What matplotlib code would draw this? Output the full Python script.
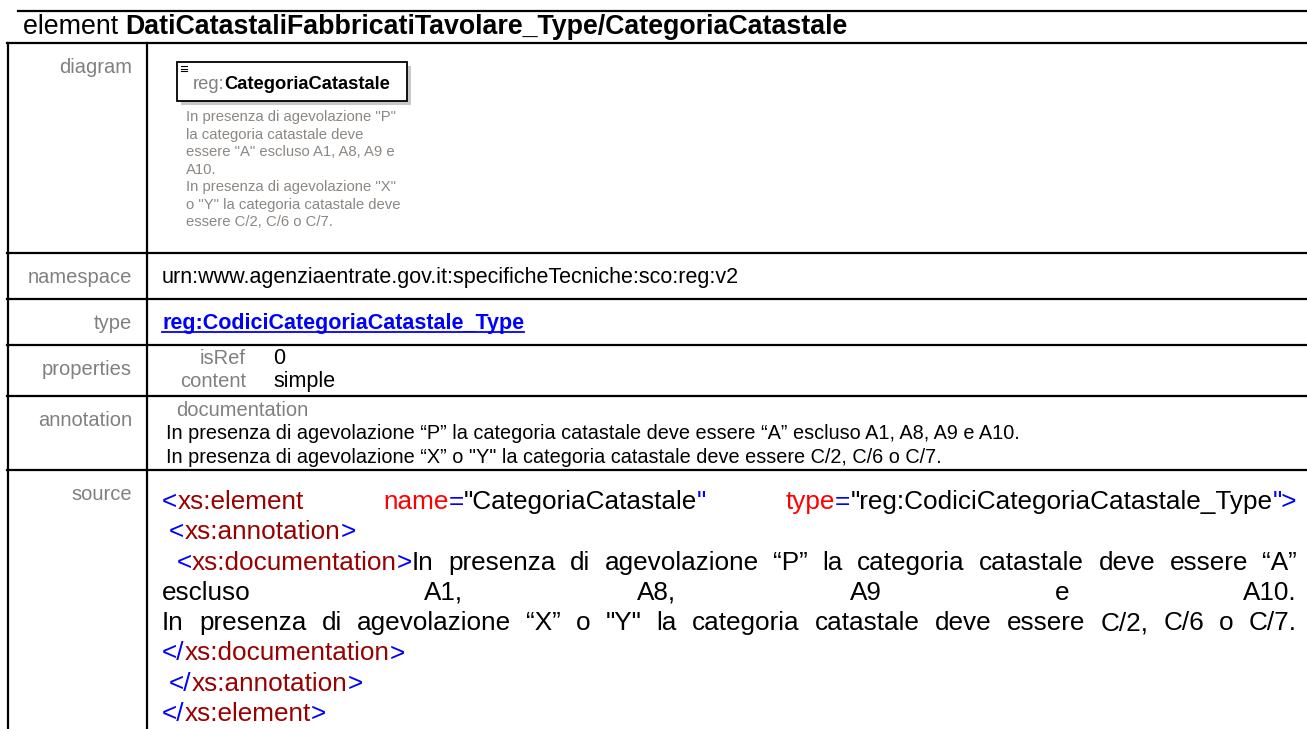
import matplotlib
matplotlib.use("Agg")
import matplotlib.pyplot as plt

# texts of the page
title_plain = "element "
title_bold = "DatiCatastaliFabbricatiTavolare_Type/CategoriaCatastale"

row_labels = ["diagram", "namespace", "type", "properties", "annotation", "source"]
row_tops = [43, 253, 299, 345, 396, 470]

namespace = "urn:www.agenziaentrate.gov.it:specificheTecniche:sco:reg:v2"
type_link = "reg:CodiciCategoriaCatastale_Type"
prop_names = ["isRef", "content"]
prop_values = ["0", "simple"]
doc_lines = [
    "In presenza di agevolazione \u201cP\u201d la categoria catastale deve essere \u201cA\u201d escluso A1, A8, A9 e A10.",
    "In presenza di agevolazione \u201cX\u201d o \"Y\" la categoria catastale deve essere C/2, C/6 o C/7.",
]

diag_prefix = "reg:"
diag_name = "CategoriaCatastale"
diag_desc = [
    "In presenza di agevolazione \"P\"",
    "la categoria catastale deve",
    "essere \"A\" escluso A1, A8, A9 e",
    "A10.",
    "In presenza di agevolazione \"X\"",
    "o \"Y\" la categoria catastale deve",
    "essere C/2, C/6 o C/7.",
]

BLUE = "#0000ff"
TAG = "#990000"
ATTR = "#ff0000"
TXT = "#000000"
GRAY = "#808080"

# source listing: each line = (indent, justified, words), word = list of (text, colour)
source_lines = [
    (0, True, [[("<", BLUE), ("xs:element", TAG)],
               [("name", ATTR), ("=", BLUE), ("\"CategoriaCatastale", TXT), ("\"", BLUE)],
               [("type", ATTR), ("=", BLUE), ("\"reg:CodiciCategoriaCatastale_Type", TXT), ("\">", BLUE)]]),
    (1, False, [[("<", BLUE), ("xs:annotation", TAG), (">", BLUE)]]),
    (2, True, [[("<", BLUE), ("xs:documentation", TAG), (">", BLUE), ("In", TXT)]]
              + [[(w, TXT)] for w in "presenza di agevolazione \u201cP\u201d la categoria catastale deve essere \u201cA\u201d".split()]),
    (0, True, [[(w, TXT)] for w in "escluso A1, A8, A9 e A10.".split()]),
    (0, True, [[(w, TXT)] for w in "In presenza di agevolazione \u201cX\u201d o \"Y\" la categoria catastale deve essere C/2, C/6 o C/7.".split()]),
    (0, False, [[("</", BLUE), ("xs:documentation", TAG), (">", BLUE)]]),
    (1, False, [[("</", BLUE), ("xs:annotation", TAG), (">", BLUE)]]),
    (0, False, [[("</", BLUE), ("xs:element", TAG), (">", BLUE)]]),
]

W, H = 1307, 729
fig = plt.figure(figsize=(W / 100, H / 100), dpi=100)
ax = fig.add_axes([0, 0, 1, 1])
ax.set_xlim(0, W)
ax.set_ylim(H, 0)
ax.axis("off")
r = fig.canvas.get_renderer()

FONT = "Liberation Sans"
MAIN = 15.5
SRC = 18.8


def put(x, y, s, **kw):
    kw.setdefault("family", FONT)
    kw.setdefault("va", "baseline")
    return ax.text(x, y, s, **kw)


def width_of(t):
    return t.get_window_extent(renderer=r).width


def measure(s, **kw):
    t = put(0, 0, s, **kw)
    w = width_of(t)
    t.remove()
    return w


# title and table lines
t = put(23, 34, title_plain, fontsize=19.3)
put(23 + width_of(t), 34, title_bold, fontsize=19.3, weight="bold")
ax.plot([18, 1306], [11, 11], color="black", lw=1.6)
for top in row_tops:
    ax.plot([7, 1306], [top, top], color="black", lw=1.6)
ax.plot([8, 8], [43, H], color="black", lw=1.6)
ax.plot([147, 147], [43, H], color="black", lw=1.6)

for lab, top in zip(row_labels, row_tops):
    put(132, top + 30, lab, fontsize=MAIN - 1, color=GRAY, ha="right")

# diagram box with shadow
ax.add_patch(plt.Rectangle((181, 66), 230, 39, facecolor="#c8c8c8", edgecolor="none"))
ax.add_patch(plt.Rectangle((177, 62), 230, 39, facecolor="white", edgecolor="black", lw=1.3))
for dy in (0, 2.5, 5):
    ax.plot([181, 187], [66 + dy, 66 + dy], color="black", lw=0.8)
box_size = 10 * 198 / (measure(diag_prefix, fontsize=10)
                       + measure(diag_name, fontsize=10, weight="bold"))
t = put(193, 89, diag_prefix, fontsize=box_size, color=GRAY)
put(193 + width_of(t), 89, diag_name, fontsize=box_size, weight="bold")
desc_size = 10 * 214 / max(measure(s, fontsize=10) for s in diag_desc)
for i, line in enumerate(diag_desc):
    put(186, 121 + 17.5 * i, line, fontsize=desc_size, color="#8c8783")

# namespace, type, properties, annotation
put(162, 283, namespace, fontsize=MAIN)
t = put(162, 329, type_link, fontsize=MAIN, weight="bold", color=BLUE)
ax.plot([162, 162 + width_of(t)], [332, 332], color=BLUE, lw=1.3)
for i, (n, v) in enumerate(zip(prop_names, prop_values)):
    put(246, 364 + 23 * i, n, fontsize=MAIN - 1, color=GRAY, ha="right")
    put(273, 364 + 23 * i, v, fontsize=MAIN)
put(176, 416, "documentation", fontsize=MAIN - 1, color=GRAY)
for i, line in enumerate(doc_lines):
    put(166, 439 + 24 * i, line, fontsize=14.3)

# source listing, justified like the html page
space = measure("a a", fontsize=SRC) - measure("aa", fontsize=SRC)
right = 1297
for i, (indent, justify, words) in enumerate(source_lines):
    y = 509 + 30.3 * i
    x0 = 162 + indent * space
    widths = [sum(measure(s, fontsize=SRC) for s, c in word) for word in words]
    if justify and len(words) > 1:
        gap = (right - x0 - sum(widths)) / (len(words) - 1)
    else:
        gap = space
    x = x0
    for word, wsum in zip(words, widths):
        xx = x
        for s, c in word:
            tt = put(xx, y, s, fontsize=SRC, color=c)
            xx += width_of(tt)
        x += wsum + gap

fig.savefig("out.png", dpi=100)
